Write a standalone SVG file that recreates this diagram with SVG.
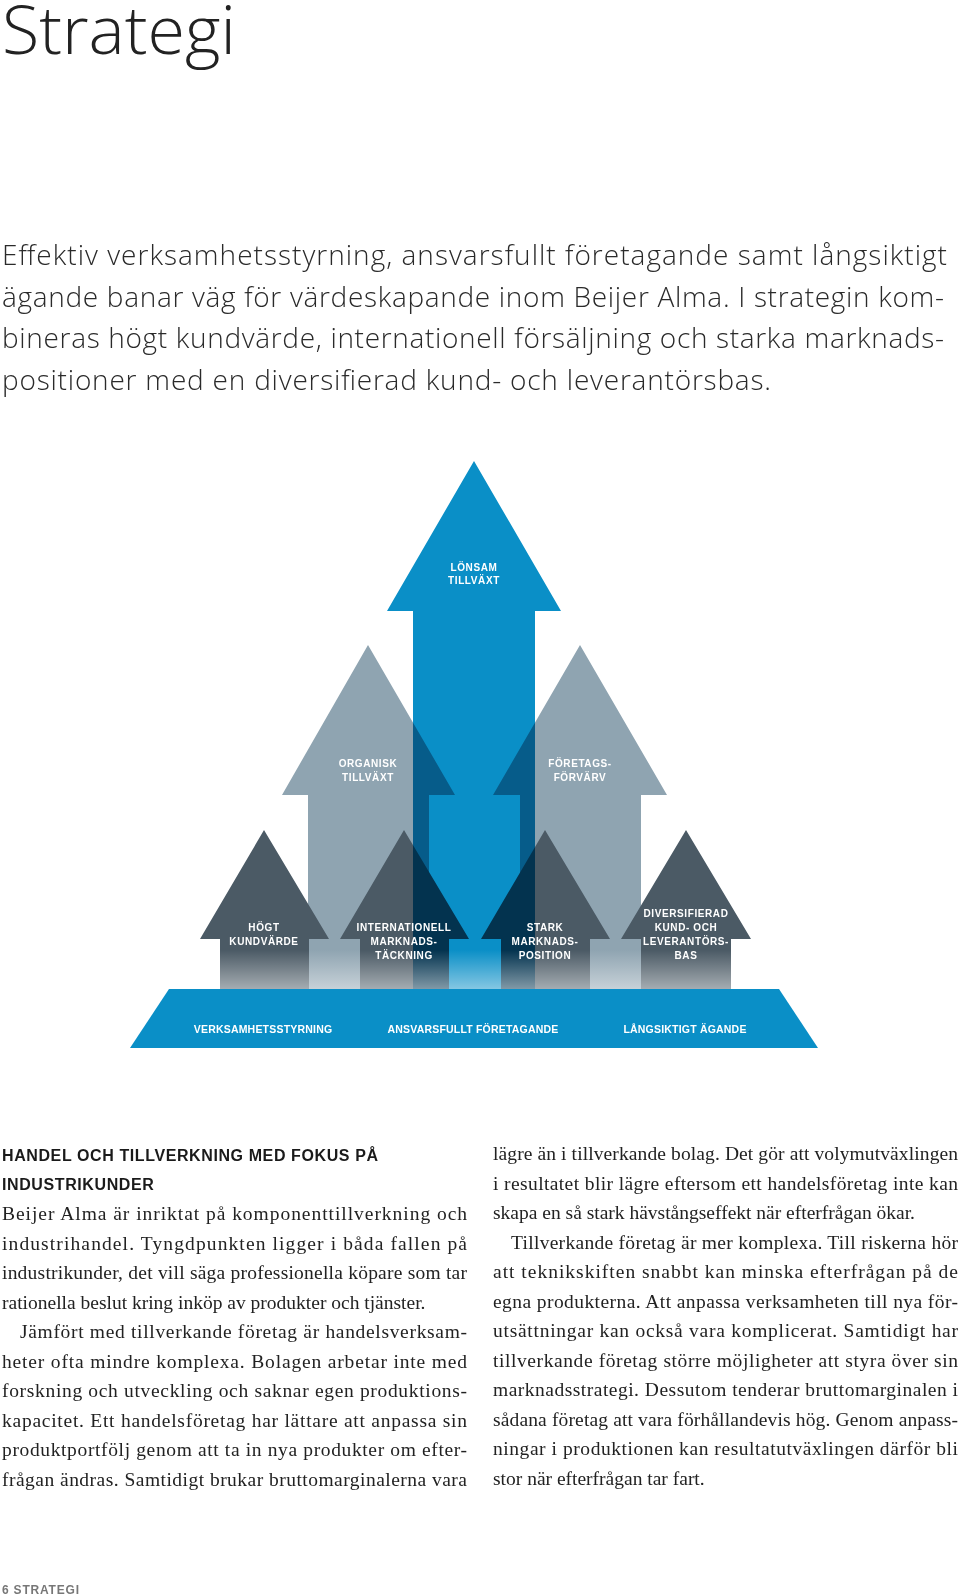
<svg xmlns="http://www.w3.org/2000/svg" width="960" height="1596" viewBox="0 0 960 1596">
<defs>
<style>
.title{font-family:"Open Sans","Lato",sans-serif;font-weight:300;font-size:66px;fill:#222}
.intro{font-family:"Open Sans","Lato",sans-serif;font-weight:300;font-size:28px;fill:#2a2a2a}
.lbl{font-family:"Liberation Sans","Arial",sans-serif;font-weight:bold;font-size:10px;fill:#fff;text-anchor:middle;letter-spacing:0.6px}
.base{font-family:"Liberation Sans","Arial",sans-serif;font-weight:bold;font-size:10.5px;fill:#fff;text-anchor:middle;letter-spacing:0.2px}
.head{font-family:"Liberation Sans","Arial",sans-serif;font-weight:bold;font-size:16px;fill:#1a1a1a;letter-spacing:0.6px}
.body{font-family:"Liberation Serif","Times New Roman",serif;font-size:19.5px;fill:#222}
.foot{font-family:"Liberation Sans","Arial",sans-serif;font-weight:bold;font-size:12px;fill:#777;letter-spacing:0.8px}
.gray{fill:#8fa4b1}
.dark{fill:#4b5a65}
.blue{fill:#0a8fc7}
</style>
<linearGradient id="fade" x1="0" y1="0" x2="0" y2="1">
<stop offset="0" stop-color="#fff" stop-opacity="0"/>
<stop offset="1" stop-color="#fff" stop-opacity="0.5"/>
</linearGradient>
</defs>
<rect width="960" height="1596" fill="#fff"/>
<text class="title" x="2" y="54" textLength="234" lengthAdjust="spacingAndGlyphs">Strategi</text>
<g id="intro">
<text class="intro" x="2" y="265" textLength="945" lengthAdjust="spacing">Effektiv verksamhetsstyrning, ansvarsfullt företagande samt långsiktigt</text>
<text class="intro" x="2" y="307" textLength="942" lengthAdjust="spacing">ägande banar väg för värdeskapande inom Beijer Alma. I strategin kom-</text>
<text class="intro" x="2" y="348" textLength="942" lengthAdjust="spacing">bineras högt kundvärde, internationell försäljning och starka marknads-</text>
<text class="intro" x="2" y="390" textLength="769" lengthAdjust="spacing">positioner med en diversifierad kund- och leverantörsbas.</text>
</g>
<g id="diagram">
<g id="organisk">
<polygon class="gray" points="368,645 455,795 429,795 429,989 308,989 308,795 282,795"/>
<text class="lbl" x="368" y="767">ORGANISK</text><text class="lbl" x="368" y="781">TILLVÄXT</text>
</g>
<g id="foretagsforvarv">
<polygon class="gray" points="580,645 667,795 641,795 641,989 520,989 520,795 493,795"/>
<text class="lbl" x="580" y="767">FÖRETAGS-</text><text class="lbl" x="580" y="781">FÖRVÄRV</text>
</g>
<g id="hogt">
<polygon class="dark" points="264,830 329,939 309,939 309,989 220,989 220,939 200,939"/>
</g>
<g id="internationell">
<polygon class="dark" points="404,830 469,939 449,939 449,989 360,989 360,939 340,939"/>
</g>
<g id="stark">
<polygon class="dark" points="545,830 610,939 590,939 590,989 501,989 501,939 481,939"/>
</g>
<g id="diversifierad">
<polygon class="dark" points="686,830 751,939 731,939 731,989 641,989 641,939 621,939"/>
</g>
<g id="lonsam">
<polygon class="blue" style="mix-blend-mode:multiply" points="474,461 561,611 535,611 535,989 413,989 413,611 387,611"/>
</g>
<rect x="195" y="950" width="560" height="39" fill="url(#fade)"/>
<text class="lbl" x="474" y="571">LÖNSAM</text><text class="lbl" x="474" y="584">TILLVÄXT</text>
<text class="lbl" x="264" y="931">HÖGT</text><text class="lbl" x="264" y="945">KUNDVÄRDE</text>
<text class="lbl" x="404" y="931">INTERNATIONELL</text><text class="lbl" x="404" y="945">MARKNADS-</text><text class="lbl" x="404" y="959">TÄCKNING</text>
<text class="lbl" x="545" y="931">STARK</text><text class="lbl" x="545" y="945">MARKNADS-</text><text class="lbl" x="545" y="959">POSITION</text>
<text class="lbl" x="686" y="917">DIVERSIFIERAD</text><text class="lbl" x="686" y="931">KUND- OCH</text><text class="lbl" x="686" y="945">LEVERANTÖRS-</text><text class="lbl" x="686" y="959">BAS</text>
<g id="basis">
<polygon class="blue" points="169,989 779,989 818,1048 130,1048"/>
<text class="base" x="263" y="1033">VERKSAMHETSSTYRNING</text>
<text class="base" x="473" y="1033">ANSVARSFULLT FÖRETAGANDE</text>
<text class="base" x="685" y="1033">LÅNGSIKTIGT ÄGANDE</text>
</g>
</g>
<g id="col1">
<text class="head" x="2" y="1161">HANDEL OCH TILLVERKNING MED FOKUS PÅ</text>
<text class="head" x="2" y="1190">INDUSTRIKUNDER</text>
<text class="body" x="2" y="1220" textLength="465" lengthAdjust="spacing">Beijer Alma är inriktat på komponenttillverkning och</text>
<text class="body" x="2" y="1249.5" textLength="465" lengthAdjust="spacing">industrihandel. Tyngdpunkten ligger i båda fallen på</text>
<text class="body" x="2" y="1279" textLength="465" lengthAdjust="spacing">industrikunder, det vill säga professionella köpare som tar</text>
<text class="body" x="2" y="1308.5">rationella beslut kring inköp av produkter och tjänster.</text>
<text class="body" x="20" y="1338" textLength="447" lengthAdjust="spacing">Jämfört med tillverkande företag är handelsverksam-</text>
<text class="body" x="2" y="1367.5" textLength="465" lengthAdjust="spacing">heter ofta mindre komplexa. Bolagen arbetar inte med</text>
<text class="body" x="2" y="1397" textLength="465" lengthAdjust="spacing">forskning och utveckling och saknar egen produktions-</text>
<text class="body" x="2" y="1426.5" textLength="465" lengthAdjust="spacing">kapacitet. Ett handelsföretag har lättare att anpassa sin</text>
<text class="body" x="2" y="1456" textLength="465" lengthAdjust="spacing">produktportfölj genom att ta in nya produkter om efter-</text>
<text class="body" x="2" y="1485.5" textLength="465" lengthAdjust="spacing">frågan ändras. Samtidigt brukar bruttomarginalerna vara</text>
</g>
<g id="col2">
<text class="body" x="493" y="1160" textLength="465" lengthAdjust="spacing">lägre än i tillverkande bolag. Det gör att volymutväxlingen</text>
<text class="body" x="493" y="1189.5" textLength="465" lengthAdjust="spacing">i resultatet blir lägre eftersom ett handelsföretag inte kan</text>
<text class="body" x="493" y="1219">skapa en så stark hävstångseffekt när efterfrågan ökar.</text>
<text class="body" x="511" y="1248.5" textLength="447" lengthAdjust="spacing">Tillverkande företag är mer komplexa. Till riskerna hör</text>
<text class="body" x="493" y="1278" textLength="465" lengthAdjust="spacing">att teknikskiften snabbt kan minska efterfrågan på de</text>
<text class="body" x="493" y="1307.5" textLength="465" lengthAdjust="spacing">egna produkterna. Att anpassa verksamheten till nya för-</text>
<text class="body" x="493" y="1337" textLength="465" lengthAdjust="spacing">utsättningar kan också vara komplicerat. Samtidigt har</text>
<text class="body" x="493" y="1366.5" textLength="465" lengthAdjust="spacing">tillverkande företag större möjligheter att styra över sin</text>
<text class="body" x="493" y="1396" textLength="465" lengthAdjust="spacing">marknadsstrategi. Dessutom tenderar bruttomarginalen i</text>
<text class="body" x="493" y="1425.5" textLength="465" lengthAdjust="spacing">sådana företag att vara förhållandevis hög. Genom anpass-</text>
<text class="body" x="493" y="1455" textLength="465" lengthAdjust="spacing">ningar i produktionen kan resultatutväxlingen därför bli</text>
<text class="body" x="493" y="1484.5">stor när efterfrågan tar fart.</text>
</g>
<text class="foot" x="2" y="1594">6 STRATEGI</text>
</svg>
